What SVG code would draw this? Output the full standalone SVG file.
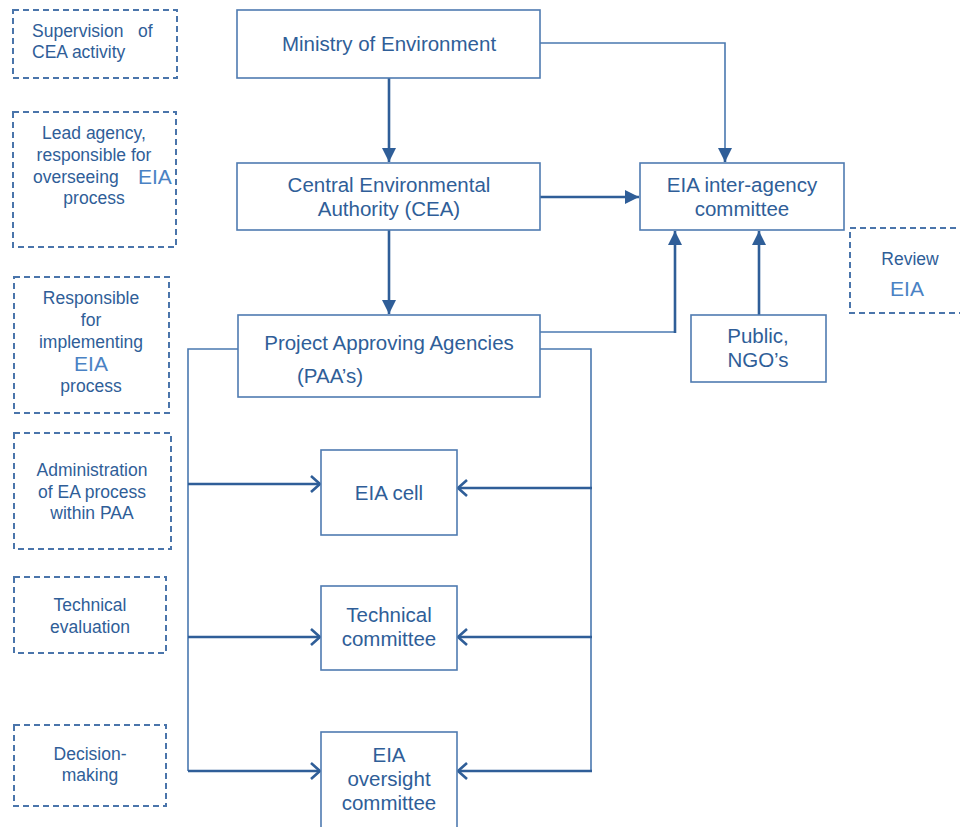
<svg xmlns="http://www.w3.org/2000/svg" width="960" height="827" viewBox="0 0 960 827">
<defs>
<style>
.box{fill:#fff;stroke:#4f7bb1;stroke-width:1.6}
.dash{fill:none;stroke:#4a75ab;stroke-width:2;stroke-dasharray:6 4}
.t{font-family:"Liberation Sans",Arial,sans-serif;font-size:20.5px;fill:#2f5e98;text-anchor:middle}
.s{font-family:"Liberation Sans",Arial,sans-serif;font-size:17.5px;fill:#2f5e98;text-anchor:middle}
.e{font-family:"Liberation Sans",Arial,sans-serif;font-size:21px;fill:#4a82c4}
.thick{fill:none;stroke:#2f5e98;stroke-width:2.6}
.thin{fill:none;stroke:#4a78b0;stroke-width:1.6}
</style>
<marker id="fa" markerUnits="userSpaceOnUse" markerWidth="16" markerHeight="16" viewBox="0 0 16 16" refX="15" refY="8" orient="auto">
<path d="M1,1 L15,8 L1,15 Z" fill="#2f5e98"/>
</marker>
<marker id="oa" markerUnits="userSpaceOnUse" markerWidth="16" markerHeight="20" viewBox="0 0 16 20" refX="13" refY="10" orient="auto">
<path d="M4,2 L13,10 L4,18" fill="none" stroke="#2f5e98" stroke-width="2.6"/>
</marker>
</defs>

<g id="connectors">
<path class="thick" d="M389,78 V162" marker-end="url(#fa)"/>
<path class="thin" d="M540,43 H725 V150"/>
<path class="thick" d="M725,148 V162" marker-end="url(#fa)"/>
<path class="thick" d="M540,197 H639" marker-end="url(#fa)"/>
<path class="thick" d="M389,230 V314" marker-end="url(#fa)"/>
<path class="thin" d="M540,332 H675"/>
<path class="thick" d="M675,333 V231" marker-end="url(#fa)"/>
<path class="thick" d="M759,315 V231" marker-end="url(#fa)"/>
<path class="thin" d="M238,349 H188 V771"/>
<path class="thin" d="M540,349 H591 V771"/>
<path class="thick" d="M188,484 H320" marker-end="url(#oa)"/>
<path class="thick" d="M188,637 H320" marker-end="url(#oa)"/>
<path class="thick" d="M188,771 H320" marker-end="url(#oa)"/>
<path class="thick" d="M592,488 H458" marker-end="url(#oa)"/>
<path class="thick" d="M592,637 H458" marker-end="url(#oa)"/>
<path class="thick" d="M592,771 H458" marker-end="url(#oa)"/>
</g>

<g id="ministry">
<rect class="box" x="237" y="10" width="303" height="68"/>
<text class="t" x="389" y="51">Ministry of Environment</text>
</g>
<g id="cea">
<rect class="box" x="237" y="163" width="303" height="67"/>
<text class="t" x="389" y="192">Central Environmental</text>
<text class="t" x="389" y="216">Authority (CEA)</text>
</g>
<g id="eia-interagency">
<rect class="box" x="640" y="163" width="204" height="67"/>
<text class="t" x="742" y="192">EIA inter-agency</text>
<text class="t" x="742" y="216">committee</text>
</g>
<g id="public">
<rect class="box" x="691" y="315" width="135" height="67"/>
<text class="t" x="758" y="343">Public,</text>
<text class="t" x="758" y="367">NGO’s</text>
</g>
<g id="paa">
<rect class="box" x="238" y="315" width="302" height="82"/>
<text class="t" x="389" y="350">Project Approving Agencies</text>
<text class="t" x="297" y="383" style="text-anchor:start">(PAA’s)</text>
</g>
<g id="eia-cell">
<rect class="box" x="321" y="450" width="136" height="85"/>
<text class="t" x="389" y="500">EIA cell</text>
</g>
<g id="technical-committee">
<rect class="box" x="321" y="586" width="136" height="84"/>
<text class="t" x="389" y="622">Technical</text>
<text class="t" x="389" y="646">committee</text>
</g>
<g id="oversight-committee">
<rect class="box" x="321" y="732" width="136" height="110"/>
<text class="t" x="389" y="762">EIA</text>
<text class="t" x="389" y="786">oversight</text>
<text class="t" x="389" y="810">committee</text>
</g>

<g id="note-supervision">
<rect class="dash" x="13" y="10" width="164" height="68"/>
<text class="s" x="32" y="37" style="text-anchor:start" xml:space="preserve">Supervision   of</text>
<text class="s" x="32" y="58" style="text-anchor:start">CEA activity</text>
</g>
<g id="note-lead">
<rect class="dash" x="13" y="112" width="163" height="135"/>
<text class="s" x="94" y="139">Lead agency,</text>
<text class="s" x="94" y="161">responsible for</text>
<text class="s" x="33" y="183" style="text-anchor:start">overseeing</text>
<text class="e" x="138" y="184">EIA</text>
<text class="s" x="94" y="204">process</text>
</g>
<g id="note-responsible">
<rect class="dash" x="14" y="277" width="155" height="136"/>
<text class="s" x="91" y="304">Responsible</text>
<text class="s" x="91" y="326">for</text>
<text class="s" x="91" y="348">implementing</text>
<text class="e" x="91" y="371" style="text-anchor:middle">EIA</text>
<text class="s" x="91" y="392">process</text>
</g>
<g id="note-administration">
<rect class="dash" x="14" y="433" width="157" height="116"/>
<text class="s" x="92" y="476">Administration</text>
<text class="s" x="92" y="498">of EA process</text>
<text class="s" x="92" y="519">within PAA</text>
</g>
<g id="note-technical">
<rect class="dash" x="14" y="577" width="152" height="76"/>
<text class="s" x="90" y="611">Technical</text>
<text class="s" x="90" y="633">evaluation</text>
</g>
<g id="note-decision">
<rect class="dash" x="14" y="725" width="152" height="81"/>
<text class="s" x="90" y="760">Decision-</text>
<text class="s" x="90" y="781">making</text>
</g>
<g id="note-review">
<rect class="dash" x="850" y="228" width="120" height="85"/>
<text class="s" x="910" y="265">Review</text>
<text class="e" x="907" y="296" style="text-anchor:middle">EIA</text>
</g>
</svg>
